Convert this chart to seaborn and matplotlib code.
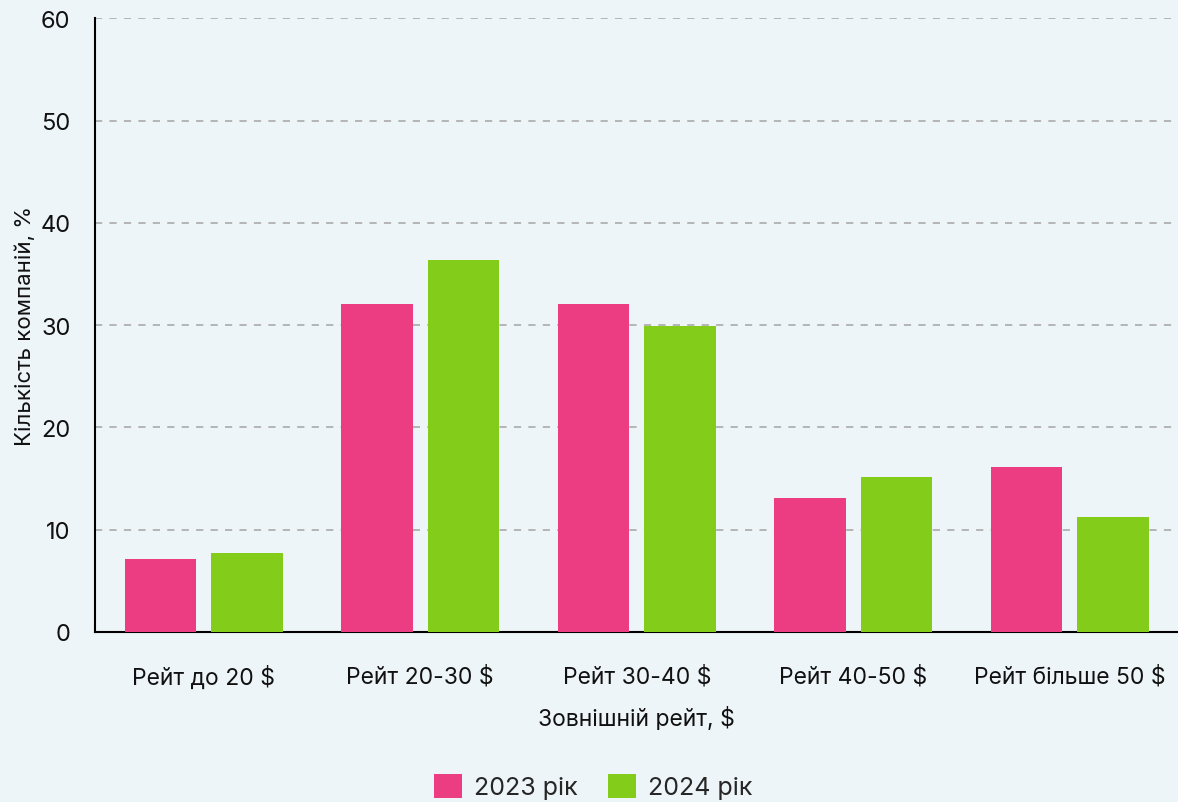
import pandas as pd
import matplotlib.pyplot as plt
import seaborn as sns

categories = ['Рейт до 20 $', 'Рейт 20-30 $', 'Рейт 30-40 $', 'Рейт 40-50 $', 'Рейт більше 50 $']
values_2023 = [7.1, 32.1, 32.1, 13.1, 16.1]
values_2024 = [7.7, 36.4, 29.9, 15.1, 11.2]
series = ['2023 рік', '2024 рік']
colors = ['#EC3D83', '#84CC1A']

df = pd.DataFrame({
    'Рейт': categories * 2,
    'Рік': [series[0]] * 5 + [series[1]] * 5,
    'Значення': values_2023 + values_2024,
})

sns.set_style('white')
plt.rcParams['font.family'] = ['Inter', 'DejaVu Sans']
bg = '#EEF5F8'

fig, ax = plt.subplots(figsize=(11.78, 8.03), dpi=100)
fig.patch.set_facecolor(bg)
ax.set_facecolor(bg)
fig.subplots_adjust(left=0.081, right=1.0, top=0.976, bottom=0.212)

sns.barplot(data=df, x='Рейт', y='Значення', hue='Рік', palette=colors,
            width=0.8, gap=0.175, saturation=1, linewidth=0, ax=ax, zorder=3)

ax.set_ylim(0, 60)
ax.set_xlim(-0.5, 4.5)
ax.set_yticks([0, 10, 20, 30, 40, 50, 60])
ax.yaxis.grid(True, linestyle=(0, (4, 4)), color='#B0B0B0', linewidth=1.3, zorder=0)
ax.tick_params(axis='y', labelsize=17, length=0, pad=18, labelcolor='#111111')
ax.tick_params(axis='x', labelsize=16.5, length=0, pad=24, labelcolor='#111111')
for s in ['top', 'right']:
    ax.spines[s].set_visible(False)
for s in ['left', 'bottom']:
    ax.spines[s].set_color('black')
    ax.spines[s].set_linewidth(1.5)
ax.set_xlabel('Зовнішній рейт, $', fontsize=16.5, labelpad=12, color='#111111')
ax.set_ylabel('Кількість компаній, %', fontsize=16, labelpad=4, color='#111111')

ax.legend(loc='lower center', bbox_to_anchor=(0.46, -0.31), ncol=2, frameon=False,
          fontsize=18, handlelength=1.1, handleheight=1.1, handletextpad=0.5, columnspacing=1.2)

plt.savefig('out.png', dpi=100, facecolor=bg)
